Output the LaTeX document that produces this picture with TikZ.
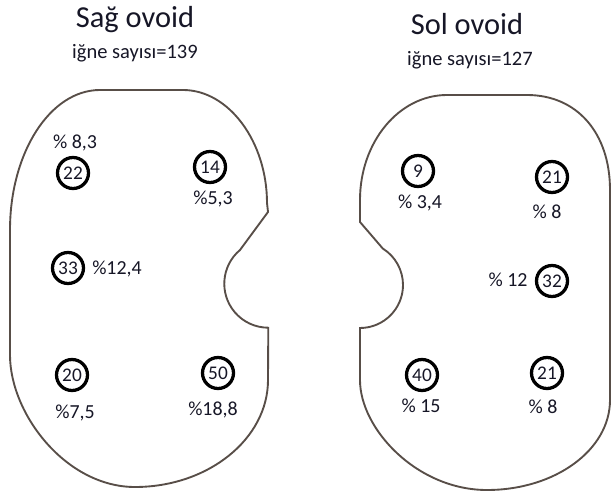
\documentclass[tikz,border=0pt]{standalone}
\usepackage{fontspec}
\setmainfont{Carlito}
\usetikzlibrary{positioning}
\definecolor{outline}{RGB}{88,78,72}
\definecolor{ink}{RGB}{22,22,38}

\begin{document}
\begin{tikzpicture}[x=0.03cm,y=0.03cm,
    needle/.style={draw=black,circle,line width=2.8pt,minimum size=0.93cm,inner sep=0pt,font=\fontsize{16.5}{16.5}\selectfont,text=ink},
    share/.style={font=\fontsize{17}{17}\selectfont,text=ink},
    title/.style={font=\fontsize{26}{26}\selectfont,text=ink},
    count/.style={font=\fontsize{17.5}{17.5}\selectfont,text=ink}]
    \useasboundingbox (0,0) rectangle (613,495);
    % right ovoid (left on the page)
    \draw[outline,line width=1.6pt] (100,405) -- (183,405)
      .. controls (229,405) and (267,353) .. (267,292) -- (268,283) -- (240,245)
      arc[start angle=130,end angle=270,radius=44] -- (268,115)
      .. controls (268,56) and (208,8) .. (135,8)
      .. controls (66,8) and (10,81) .. (10,140) -- (10,265)
      .. controls (10,342) and (50,405) .. (100,405);
    % left ovoid (right on the page)
    \draw[outline,line width=1.6pt] (447,400) -- (527,400)
      .. controls (577,400) and (610,362) .. (610,305) -- (610,95)
      .. controls (610,45) and (555,5) .. (487,5)
      .. controls (417,5) and (360,66) .. (360,115) -- (360,167)
      arc[start angle=-90,end angle=58,radius=43] -- (360,273) -- (360,295)
      .. controls (360,353) and (399,400) .. (447,400);
    % titles
    \node[title] (sagt) at (135,475) {Sağ ovoid};
    \node[count] (sagn) at (135,442) {iğne sayısı=139};
    \node[title] (solt) at (467,471) {Sol ovoid};
    \node[count] (soln) at (470,435) {iğne sayısı=127};
    % needles, right ovoid
    \node[needle] (r1) at (73,322) {22};
    \node[share] (r1p) at (75,352) {\% 8,3};
    \node[needle] (r2) at (210,328) {14};
    \node[share] (r2p) at (213,296) {\%5,3};
    \node[needle] (r3) at (68,227) {33};
    \node[share] (r3p) at (117,226) {\%12,4};
    \node[needle] (r4) at (72,120) {20};
    \node[share] (r4p) at (75,82) {\%7,5};
    \node[needle] (r5) at (218,122) {50};
    \node[share] (r5p) at (213,85) {\%18,8};
    % needles, left ovoid
    \node[needle] (l1) at (418,324) {9};
    \node[share] (l1p) at (420,292) {\% 3,4};
    \node[needle] (l2) at (552,318) {21};
    \node[share] (l2p) at (547,283) {\% 8};
    \node[needle] (l3) at (552,214) {32};
    \node[share] (l3p) at (508,215) {\% 12};
    \node[needle] (l4) at (422,120) {40};
    \node[share] (l4p) at (421,89) {\% 15};
    \node[needle] (l5) at (547,122) {21};
    \node[share] (l5p) at (543,88) {\% 8};
\end{tikzpicture}
\end{document}
